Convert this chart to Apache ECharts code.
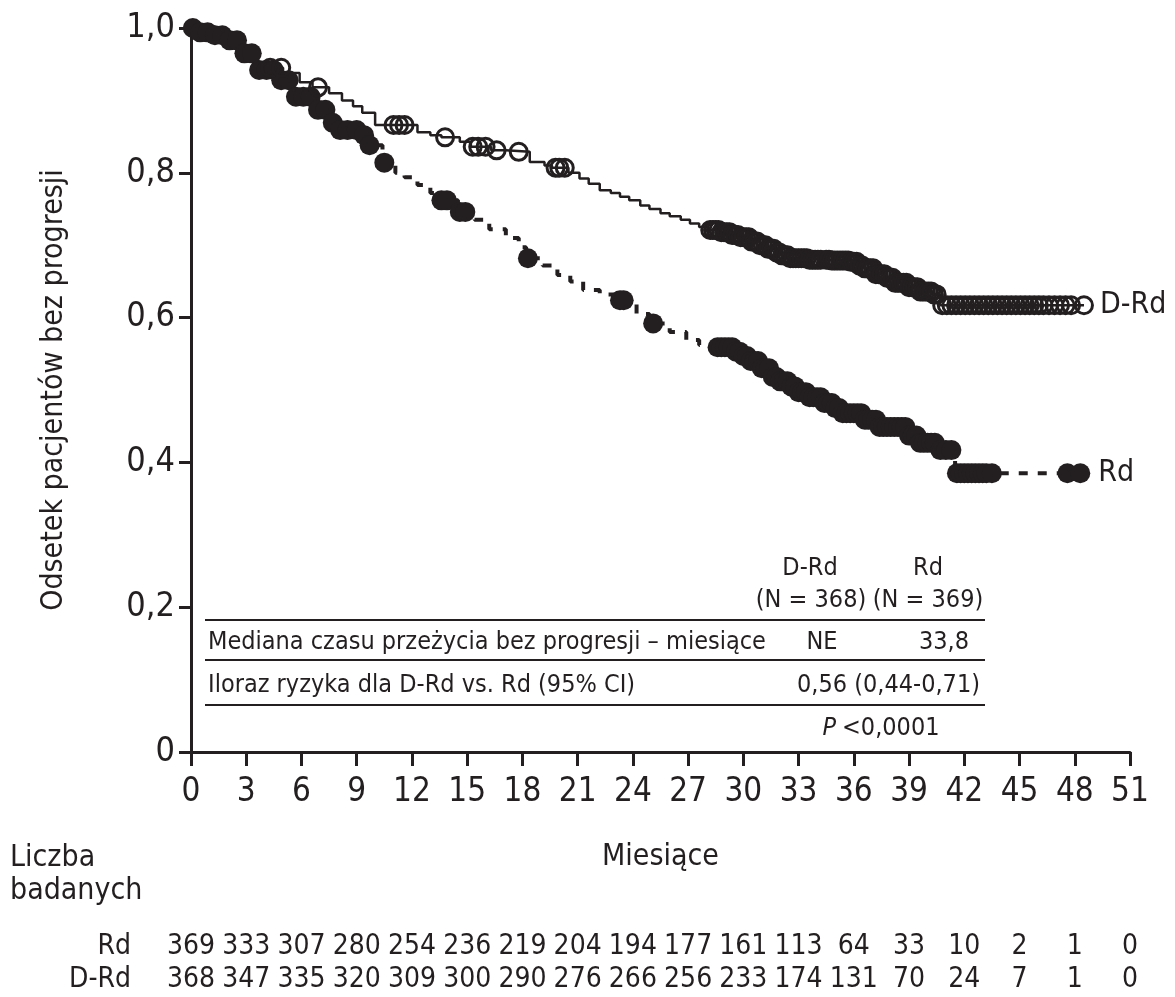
<!DOCTYPE html>
<html>
<head>
<meta charset="utf-8">
<script src="https://cdn.jsdelivr.net/npm/echarts@6/dist/echarts.min.js"></script>
<style>
  html, body { margin: 0; padding: 0; background: #fff; }
  #chart { width: 1175px; height: 997px; }
</style>
</head>
<body>
<div id="chart"></div>
<script>
var INK = '#231f20';
var FONT = "'DejaVu Sans Condensed', 'Liberation Sans Narrow', sans-serif";

// Kaplan-Meier steps [miesiące, odsetek]
var stepsDRd = [
  [0, 1], [0.8, 0.988], [1.9, 0.979], [2.8, 0.965], [3.6, 0.952], [4.2, 0.945],
  [5.0, 0.938], [5.9, 0.925], [6.6, 0.918], [7.5, 0.91], [8.2, 0.9], [8.8, 0.892],
  [9.3, 0.883], [10.0, 0.866], [12.3, 0.856], [13.0, 0.852], [13.6, 0.849],
  [14.6, 0.843], [15.2, 0.836], [16.3, 0.831], [17.1, 0.829], [18.4, 0.815],
  [19.2, 0.81], [19.6, 0.807], [20.5, 0.80], [21.1, 0.792], [21.6, 0.785],
  [22.2, 0.776], [22.8, 0.772], [23.3, 0.767], [23.8, 0.762], [24.4, 0.755],
  [24.9, 0.75], [25.5, 0.744], [26.0, 0.74], [26.6, 0.735], [27.1, 0.73],
  [27.6, 0.725], [28.1, 0.721], [28.7, 0.718], [29.3, 0.714], [29.8, 0.711],
  [30.4, 0.705], [30.9, 0.70], [31.3, 0.695], [31.7, 0.69], [32.1, 0.686],
  [32.5, 0.682], [33.6, 0.68], [34.7, 0.679], [35.8, 0.677], [36.3, 0.672],
  [36.6, 0.668], [37.2, 0.66], [37.7, 0.655], [38.2, 0.648], [38.9, 0.642],
  [39.6, 0.636], [40.3, 0.632], [40.7, 0.617], [48.5, 0.617]
];
var stepsRd = [
  [0, 1], [0.3, 0.994], [1.3, 0.99], [2.0, 0.983], [2.8, 0.965], [3.6, 0.942],
  [4.6, 0.928], [5.5, 0.905], [6.6, 0.887], [7.4, 0.869], [8.0, 0.859],
  [9.1, 0.852], [9.6, 0.838], [10.4, 0.814], [11.1, 0.80], [11.6, 0.794],
  [12.3, 0.783], [13.0, 0.772], [13.5, 0.762], [14.5, 0.746], [15.4, 0.735],
  [16.2, 0.722], [17.1, 0.71], [17.8, 0.697], [18.2, 0.682], [19.1, 0.672],
  [19.9, 0.659], [20.6, 0.65], [21.3, 0.638], [22.2, 0.632], [23.0, 0.624],
  [24.2, 0.605], [24.9, 0.592], [26.0, 0.58], [26.9, 0.569], [27.6, 0.562],
  [28.5, 0.559], [29.5, 0.553], [30.0, 0.547], [30.4, 0.54], [31.0, 0.53],
  [31.6, 0.518], [32.0, 0.512], [32.5, 0.505], [33.0, 0.497], [33.5, 0.49],
  [34.3, 0.482], [34.9, 0.475], [35.4, 0.468], [36.5, 0.459], [37.4, 0.449],
  [38.9, 0.437], [39.6, 0.427], [40.5, 0.417], [41.5, 0.385], [48.3, 0.385]
];

// censored observations (miesiące)
var censorDRd = [
  4.3, 4.9, 6.9, 11.0, 11.3, 11.6, 13.8, 15.3, 15.6, 16.0, 16.6, 17.8, 19.8, 20.0, 20.3,
  28.2, 28.35, 28.5, 28.65, 28.8, 28.95, 29.1, 29.25, 29.4, 29.55, 29.7, 29.85, 30.0,
  30.15, 30.3, 30.45, 30.6, 30.75, 30.9, 31.05, 31.2, 31.35, 31.5, 31.65, 31.8, 31.95,
  32.1, 32.25, 32.4, 32.55, 32.7, 32.85, 33.0, 33.15, 33.3, 33.45, 33.6, 33.75, 33.9,
  34.05, 34.2, 34.5, 34.65, 34.8, 34.95, 35.1, 35.25, 35.4, 35.55, 35.7, 35.85, 36.0,
  36.15, 36.3, 36.45, 36.6, 36.75, 36.9, 37.05, 37.2, 37.35, 37.5, 37.65, 37.8, 37.95,
  38.1, 38.25, 38.4, 38.55, 38.7, 38.85, 39.0, 39.15, 39.3, 39.45, 39.6, 39.75, 39.9,
  40.05, 40.2, 40.35, 40.5,
  40.8, 41.05, 41.3, 41.55, 41.8, 42.05, 42.3, 42.55, 42.8, 43.05, 43.3, 43.55, 43.8,
  44.05, 44.3, 44.55, 44.8, 45.05, 45.3, 45.55, 45.8, 46.05, 46.3, 46.6, 46.9, 47.2,
  47.5, 47.8, 48.5
];
var censorRd = [
  0.1, 0.5, 0.9, 1.3, 1.7, 2.1, 2.5, 2.9, 3.3, 3.7, 4.1, 4.5, 4.9, 5.3, 5.7, 6.1,
  6.5, 6.9, 7.3, 7.7, 8.1, 8.5, 9.0, 9.4, 9.7, 10.5, 13.6, 13.9, 14.6, 14.9, 18.3,
  23.3, 23.5, 25.1,
  28.6, 28.8, 29.0, 29.2, 29.4, 29.6, 29.8, 30.0, 30.2, 30.4, 30.6, 30.8, 31.0, 31.2,
  31.4, 31.6, 31.8, 32.0, 32.2, 32.4, 32.6, 32.8, 33.0, 33.2, 33.4, 33.6, 33.8, 34.0,
  34.2, 34.4, 34.6, 34.8, 35.0, 35.2, 35.4, 35.6, 35.8, 36.0, 36.2, 36.4, 36.6, 36.8,
  37.0, 37.2, 37.4, 37.6, 37.8, 38.0, 38.2, 38.4, 38.6, 38.8, 39.0, 39.2, 39.4, 39.6,
  39.8, 40.0, 40.2, 40.4, 40.7, 41.0, 41.3,
  41.6, 41.8, 42.0, 42.2, 42.4, 42.6, 42.8, 43.0, 43.2, 43.5, 47.6, 48.3
];

// liczba badanych
var riskMonths = [0, 3, 6, 9, 12, 15, 18, 21, 24, 27, 30, 33, 36, 39, 42, 45, 48, 51];
var riskRd = [369, 333, 307, 280, 254, 236, 219, 204, 194, 177, 161, 113, 64, 33, 10, 2, 1, 0];
var riskDRd = [368, 347, 335, 320, 309, 300, 290, 276, 266, 256, 233, 174, 131, 70, 24, 7, 1, 0];
var riskRows = ['Rd', 'D-Rd'];

function survAt(steps, t) {
  var s = steps[0][1];
  for (var i = 0; i < steps.length; i++) {
    if (steps[i][0] <= t) s = steps[i][1];
  }
  return s;
}
function censorPts(times, steps) {
  return times.map(function (t) { return [t, survAt(steps, t)]; });
}

var riskData = [];
riskMonths.forEach(function (m, i) {
  riskData.push([m, 0, riskRd[i]]);
  riskData.push([m, 1, riskDRd[i]]);
});

var txt = function (x, y, s, align, extra) {
  var st = { text: s, fill: INK, font: "25px " + FONT, textAlign: align || 'left', textVerticalAlign: 'middle' };
  if (extra) for (var k in extra) st[k] = extra[k];
  return { type: 'text', x: x, y: y, style: st };
};
var hline = function (y) {
  return { type: 'line', shape: { x1: 205, y1: y, x2: 985, y2: y }, style: { stroke: INK, lineWidth: 2 } };
};

var myChart = echarts.init(document.getElementById('chart'));
option = {
  backgroundColor: '#fff',
  animation: false,
  textStyle: { fontFamily: FONT, color: INK },
  grid: [
    { left: 191, right: 45, top: 28, bottom: 245 },
    { left: 191, right: 45, top: 930, height: 66 }
  ],
  xAxis: [{
    gridIndex: 0, type: 'value', min: 0, max: 51, interval: 3,
    name: 'Miesiące', nameLocation: 'middle', nameGap: 90,
    nameTextStyle: { fontSize: 30, color: INK, fontFamily: FONT },
    axisLine: { lineStyle: { color: INK, width: 3 } },
    axisTick: { length: 14, lineStyle: { color: INK, width: 3 } },
    axisLabel: { fontSize: 33, color: INK, margin: 24, fontFamily: FONT },
    splitLine: { show: false }
  }, {
    gridIndex: 1, type: 'value', min: 0, max: 51, interval: 3,
    show: false
  }],
  yAxis: [{
    gridIndex: 0, type: 'value', min: 0, max: 1, interval: 0.2,
    name: 'Odsetek pacjentów bez progresji', nameLocation: 'middle', nameGap: 122,
    nameTextStyle: { fontSize: 30, color: INK, fontFamily: FONT },
    axisLine: { show: true, lineStyle: { color: INK, width: 3 } },
    axisTick: { show: true, length: 12, lineStyle: { color: INK, width: 3 } },
    axisLabel: {
      fontSize: 34, color: INK, margin: 16, fontFamily: FONT,
      formatter: function (v) { return v === 0 ? '0' : v.toFixed(1).replace('.', ','); }
    },
    splitLine: { show: false }
  }, {
    gridIndex: 1, type: 'category', data: riskRows, inverse: true,
    axisLine: { show: false }, axisTick: { show: false },
    axisLabel: { interval: 0, hideOverlap: false, fontSize: 28, color: INK, margin: 60, fontFamily: FONT }
  }],
  series: [
    {
      name: 'Rd', type: 'line', step: 'end', data: stepsRd, showSymbol: false, symbol: 'none',
      lineStyle: { color: INK, width: 4, type: [9, 10] },
      endLabel: { show: true, formatter: 'Rd', fontSize: 30, color: INK, distance: 18, fontFamily: FONT },
      z: 2
    },
    {
      name: 'D-Rd', type: 'line', step: 'end', data: stepsDRd, showSymbol: false, symbol: 'none',
      lineStyle: { color: INK, width: 2.5 },
      endLabel: { show: true, formatter: 'D-Rd', fontSize: 30, color: INK, distance: 16, fontFamily: FONT },
      z: 3
    },
    {
      name: 'Rd cenzura', type: 'scatter', data: censorPts(censorRd, stepsRd),
      symbol: 'circle', symbolSize: 20, itemStyle: { color: INK, opacity: 1 }, z: 4
    },
    {
      name: 'D-Rd cenzura', type: 'scatter', data: censorPts(censorDRd, stepsDRd),
      symbol: 'circle', symbolSize: 17,
      itemStyle: { color: 'rgba(255,255,255,0)', borderColor: INK, borderWidth: 3, opacity: 1 }, z: 5
    },
    {
      name: 'ryzyko', type: 'custom', xAxisIndex: 1, yAxisIndex: 1, data: riskData,
      encode: { x: 0, y: 1 },
      renderItem: function (params, api) {
        var pt = api.coord([api.value(0), api.value(1)]);
        return {
          type: 'text', x: pt[0], y: pt[1],
          style: { text: String(api.value(2)), fill: INK, font: '28px ' + FONT, align: 'center', verticalAlign: 'middle' }
        };
      }
    }
  ],
  graphic: [
    txt(810, 568, 'D-Rd', 'center'),
    txt(928, 568, 'Rd', 'center'),
    txt(811, 600, '(N = 368)', 'center'),
    txt(928, 600, '(N = 369)', 'center'),
    hline(620),
    txt(208, 642, 'Mediana czasu przeżycia bez progresji – miesiące'),
    txt(822, 642, 'NE', 'center'),
    txt(969, 642, '33,8', 'right'),
    hline(660),
    txt(208, 685, 'Iloraz ryzyka dla D-Rd vs. Rd (95% CI)'),
    txt(980, 685, '0,56 (0,44-0,71)', 'right'),
    hline(705),
    txt(836, 728, 'P', 'right', { font: "italic 25px " + FONT }),
    txt(842, 728, '<0,0001', 'left'),
    txt(10, 858, 'Liczba', 'left', { font: "30px " + FONT }),
    txt(10, 891, 'badanych', 'left', { font: "30px " + FONT })
  ]
};
myChart.setOption(option);
</script>
</body>
</html>
